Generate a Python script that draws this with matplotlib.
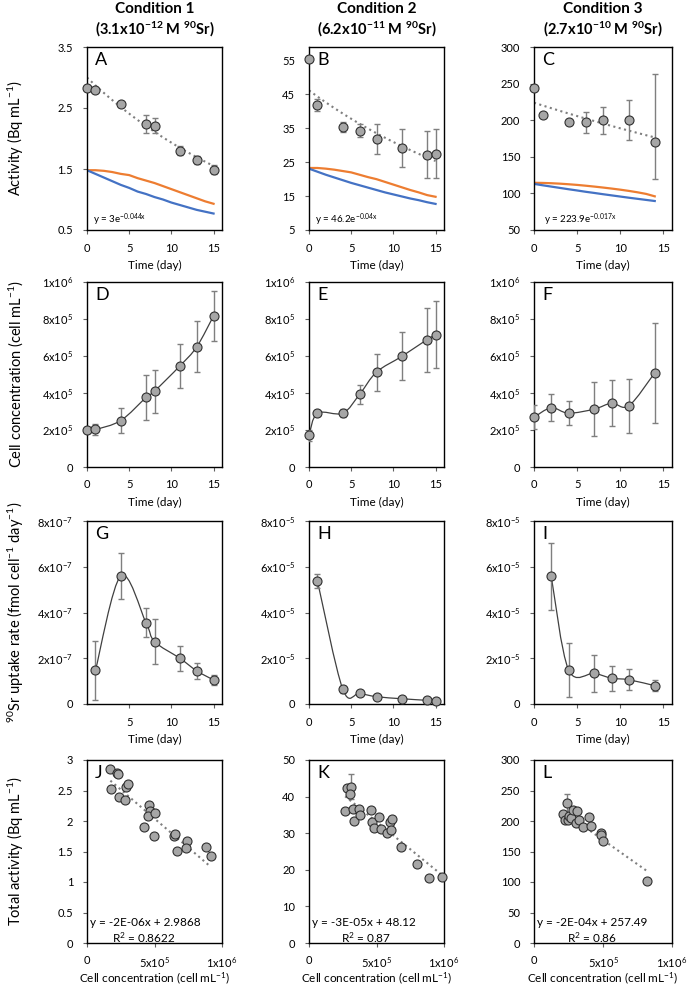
import numpy as np
import matplotlib.pyplot as plt
from matplotlib.path import Path
from matplotlib.patches import PathPatch

plt.rcParams['font.family'] = ['Lato', 'DejaVu Sans']
plt.rcParams['mathtext.fontset'] = 'custom'
plt.rcParams['mathtext.rm'] = 'Lato'
plt.rcParams['mathtext.it'] = 'Lato:italic'
plt.rcParams['mathtext.bf'] = 'Lato:bold'

# ---------------- data ----------------
conditions = ['Condition 1', 'Condition 2', 'Condition 3']
concentrations = [r'(3.1x10$^{\mathbf{-12}}$ M $^{\mathbf{90}}$Sr)',
                  r'(6.2x10$^{\mathbf{-11}}$ M $^{\mathbf{90}}$Sr)',
                  r'(2.7x10$^{\mathbf{-10}}$ M $^{\mathbf{90}}$Sr)']

# row 1: activity
act_day_1 = [0, 1, 4, 7, 8, 11, 13, 15]
act_1 = [2.83, 2.79, 2.56, 2.245, 2.21, 1.80, 1.645, 1.49]
act_err_1 = [0.04, 0.03, 0.045, 0.147, 0.12, 0.07, 0.065, 0.07]
act_day_2 = [0, 1, 4, 6, 8, 11, 14, 15]
act_2 = [55.5, 41.9, 35.4, 34.3, 31.8, 29.2, 27.2, 27.5]
act_err_2 = [0.5, 1.8, 1.4, 2.0, 4.5, 5.7, 6.9, 7.3]
act_day_3 = [0, 1, 4, 6, 8, 11, 14]
act_3 = [244.5, 206.8, 197.3, 197.0, 200.0, 200.0, 170.5]
act_err_lo_3 = [1, 2, 3, 14.5, 18.6, 27.7, 51]
act_err_hi_3 = [1, 2, 3, 14.5, 18.6, 27.7, 92]

fit_a = [3.0, 46.2, 223.9]
fit_k = [-0.044, -0.04, -0.017]
fit_end = [15, 15, 14]
fit_text = [r'y = 3e$^{\mathregular{-0.044x}}$',
            r'y = 46.2e$^{\mathregular{-0.04x}}$',
            r'y = 223.9e$^{\mathregular{-0.017x}}$']

model_day_12 = list(range(16))
model_day_3 = list(range(15))
orange_1 = [1.48, 1.48, 1.47, 1.45, 1.42, 1.40, 1.35, 1.31, 1.27, 1.22, 1.17, 1.12, 1.07, 1.02, 0.97, 0.93]
blue_1 = [1.48, 1.42, 1.36, 1.30, 1.24, 1.19, 1.13, 1.09, 1.04, 1.00, 0.95, 0.91, 0.87, 0.83, 0.80, 0.77]
orange_2 = [23.3, 23.3, 23.1, 22.8, 22.4, 22.0, 21.3, 20.6, 20.0, 19.2, 18.4, 17.6, 16.8, 16.1, 15.3, 14.8]
blue_2 = [23.1, 22.2, 21.3, 20.5, 19.7, 18.9, 18.2, 17.5, 16.8, 16.1, 15.5, 14.9, 14.3, 13.8, 13.2, 12.7]
orange_3 = [114.5, 114.3, 113.9, 113.3, 112.5, 111.6, 110.5, 109.3, 108.0, 106.6, 105.1, 103.4, 101.5, 99.3, 96.0]
blue_3 = [113.0, 111.1, 109.3, 107.5, 105.7, 104.0, 102.2, 100.6, 98.9, 97.3, 95.7, 94.1, 92.6, 91.1, 89.6]

# row 2: cell concentration
cell_day_1 = [0, 1, 4, 7, 8, 11, 13, 15]
cell_1 = [2.0e5, 2.03e5, 2.51e5, 3.76e5, 4.1e5, 5.46e5, 6.49e5, 8.17e5]
cell_err_1 = [0.1e5, 0.32e5, 0.67e5, 1.23e5, 1.16e5, 1.17e5, 1.38e5, 1.34e5]
cell_day_2 = [0, 1, 4, 6, 8, 11, 14, 15]
cell_2 = [1.71e5, 2.91e5, 2.91e5, 3.93e5, 5.13e5, 5.98e5, 6.89e5, 7.15e5]
cell_err_2 = [0.3e5, 0.1e5, 0.23e5, 0.5e5, 1.0e5, 1.3e5, 1.73e5, 1.8e5]
cell_day_3 = [0, 2, 4, 7, 9, 11, 14]
cell_3 = [2.69e5, 3.2e5, 2.91e5, 3.13e5, 3.45e5, 3.31e5, 5.09e5]
cell_err_3 = [0.65e5, 0.74e5, 0.65e5, 1.47e5, 1.24e5, 1.45e5, 2.7e5]

# row 3: uptake rate
rate_day_1 = [1, 4, 7, 8, 11, 13, 15]
rate_1 = [1.47e-7, 5.6e-7, 3.55e-7, 2.73e-7, 2.0e-7, 1.45e-7, 1.05e-7]
rate_err_1 = [1.28e-7, 1.02e-7, 0.64e-7, 0.98e-7, 0.55e-7, 0.36e-7, 0.23e-7]
rate_day_2 = [1, 4, 6, 8, 11, 14, 15]
rate_2 = [5.38e-5, 0.65e-5, 0.47e-5, 0.32e-5, 0.23e-5, 0.16e-5, 0.14e-5]
rate_err_2 = [0.3e-5, 0.15e-5, 0.05e-5, 0.03e-5, 0.03e-5, 0.02e-5, 0.02e-5]
rate_day_3 = [2, 4, 7, 9, 11, 14]
rate_3 = [5.58e-5, 1.5e-5, 1.34e-5, 1.13e-5, 1.06e-5, 0.8e-5]
rate_err_3 = [1.45e-5, 1.18e-5, 0.81e-5, 0.54e-5, 0.46e-5, 0.25e-5]

# row 4: total activity vs cell concentration
tot_cell_1 = [1.73e5, 2.22e5, 2.30e5, 1.80e5, 2.40e5, 2.84e5, 2.89e5, 3.04e5, 4.57e5, 4.64e5,
              4.52e5, 5.01e5, 4.25e5, 4.94e5, 6.42e5, 6.50e5, 7.41e5, 6.67e5, 7.31e5, 8.81e5, 9.16e5]
tot_1 = [2.85, 2.78, 2.77, 2.53, 2.40, 2.35, 2.55, 2.61, 2.26, 2.17,
         2.08, 2.13, 1.90, 1.75, 1.75, 1.78, 1.67, 1.51, 1.56, 1.57, 1.42]
tot_cell_2 = [2.68e5, 2.81e5, 3.11e5, 3.06e5, 3.23e5, 3.33e5, 3.68e5, 3.81e5, 4.56e5, 4.64e5, 4.81e5,
              5.19e5, 5.31e5, 5.81e5, 5.99e5, 6.12e5, 6.07e5, 6.79e5, 8.02e5, 8.87e5, 9.85e5]
tot_2 = [36.0, 42.3, 42.75, 40.8, 36.7, 33.4, 36.7, 35.05, 36.4, 33.06, 31.5,
         34.4, 31.25, 30.1, 33.06, 33.8, 30.8, 26.3, 21.7, 17.75, 17.9]
tot_cell_3 = [2.12e5, 2.36e5, 2.22e5, 2.46e5, 2.54e5, 2.71e5, 2.86e5, 3.10e5, 3.03e5, 3.28e5,
              3.52e5, 3.97e5, 4.14e5, 4.83e5, 4.88e5, 5.00e5, 8.20e5]
tot_3 = [212, 229, 202, 202, 209, 205, 218.5, 217, 197, 202,
         190, 206.5, 191, 181, 176.6, 166.8, 101.6]
tot_err_idx = [None, 2, 1]
tot_err = [0, 3.5, 15]
lin_slope = [-1.9e-6, -3.0e-5, -1.6e-4]
lin_icpt = [2.99, 48.12, 249.0]
lin_text = ['y = -2E-06x + 2.9868', 'y = -3E-05x + 48.12', 'y = -2E-04x + 257.49']
r2_text = [r'R$^{\mathregular{2}}$ = 0.8622', r'R$^{\mathregular{2}}$ = 0.87', r'R$^{\mathregular{2}}$ = 0.86']

letters = ['A', 'B', 'C', 'D', 'E', 'F', 'G', 'H', 'I', 'J', 'K', 'L']

# ---------------- layout ----------------
W, H = 696, 992
fig = plt.figure(figsize=(W / 100, H / 100), dpi=100)

col_l = [87, 309, 534]
col_r = [222, 444, 672]
row_t = [47, 282, 521, 760]
row_b = [230, 467, 704, 943]

GRAY = '#7f7f7f'
FACE = '#a6a6a6'
ORANGE = '#ED7D31'
BLUE = '#4472C4'


def px_axes(l, t, r, b):
    ax = fig.add_axes([l / W, 1 - b / H, (r - l) / W, (b - t) / H])
    for s in ax.spines.values():
        s.set_color('black')
        s.set_linewidth(1.0)
    ax.tick_params(direction='out', length=3, width=0.8, color='#606060',
                   labelsize=8, top=False, right=False)
    ax.tick_params(axis='x', pad=6)
    ax.tick_params(axis='y', pad=7)
    return ax


def smooth_line(ax, x, y):
    # Excel-style smoothed line drawn as cubic Bezier segments
    pts = np.column_stack([x, y]).astype(float)
    n = len(pts)
    verts = [pts[0]]
    codes = [Path.MOVETO]
    for i in range(n - 1):
        p0 = pts[i - 1] if i > 0 else pts[i]
        p1 = pts[i]
        p2 = pts[i + 1]
        p3 = pts[i + 2] if i + 2 < n else pts[i + 1]
        verts += [p1 + (p2 - p0) / 6, p2 - (p3 - p1) / 6, p2]
        codes += [Path.CURVE4] * 3
    ax.add_patch(PathPatch(Path(verts, codes), fill=False, ec='#404040', lw=0.9, zorder=2))


def points(ax, x, y):
    ax.plot(x, y, 'o', mfc=FACE, mec='#303030', ms=6.5, mew=0.8, zorder=4, clip_on=False)


def sci(m, e):
    return r'$\mathregular{%dx10^{%d}}$' % (m, e)


def letter(ax, s):
    ax.text(0.06, 0.93, s, transform=ax.transAxes, fontsize=13, va='center', ha='left')


def xlabel(ax, s, row):
    h = row_b[row] - row_t[row]
    ax.text(0.5, -35 / h, s, transform=ax.transAxes, ha='center', va='center', fontsize=8.5)


def ylabel(row, s):
    yc = 1 - (row_t[row] + row_b[row]) / 2 / H
    fig.text(16 / W, yc, s, rotation=90, ha='center', va='center', fontsize=10.5)


# titles
for c in range(3):
    xc = (col_l[c] + col_r[c]) / 2 / W
    fig.text(xc, 1 - 9 / H, conditions[c], ha='center', va='center', fontsize=11, fontweight='bold')
    fig.text(xc, 1 - 29 / H, concentrations[c], ha='center', va='center', fontsize=10.5, fontweight='bold')

# row 1
act_days = [act_day_1, act_day_2, act_day_3]
act_vals = [act_1, act_2, act_3]
act_errs = [[act_err_1, act_err_1], [act_err_2, act_err_2], [act_err_lo_3, act_err_hi_3]]
model_days = [model_day_12, model_day_12, model_day_3]
oranges = [orange_1, orange_2, orange_3]
blues = [blue_1, blue_2, blue_3]
act_ylim = [(0.5, 3.5), (5, 59), (50, 300)]
act_yticks = [[0.5, 1.5, 2.5, 3.5], [5, 15, 25, 35, 45, 55], [50, 100, 150, 200, 250, 300]]
act_ylabels = [['0.5', '1.5', '2.5', '3.5'], None, None]

for c in range(3):
    ax = px_axes(col_l[c], row_t[0], col_r[c], row_b[0])
    ax.plot(model_days[c], oranges[c], color=ORANGE, lw=1.6, zorder=2)
    ax.plot(model_days[c], blues[c], color=BLUE, lw=1.6, zorder=2)
    xf = np.linspace(0, fit_end[c], 60)
    ax.plot(xf, fit_a[c] * np.exp(fit_k[c] * xf), ':', color=GRAY, lw=1.5, zorder=2)
    ax.errorbar(act_days[c], act_vals[c], yerr=act_errs[c], fmt='none', ecolor=GRAY,
                elinewidth=1, capsize=2, capthick=1, zorder=3)
    points(ax, act_days[c], act_vals[c])
    ax.set_xlim(0, 16)
    ax.set_ylim(*act_ylim[c])
    ax.set_xticks([0, 5, 10, 15])
    ax.set_yticks(act_yticks[c])
    if act_ylabels[c]:
        ax.set_yticklabels(act_ylabels[c])
    ax.text(0.045 if c < 2 else 0.07, 0.055, fit_text[c], transform=ax.transAxes, fontsize=7, va='center')
    xlabel(ax, 'Time (day)', 0)
    letter(ax, letters[c])
ylabel(0, r'Activity (Bq mL$^{\mathregular{-1}}$)')

# row 2
cell_days = [cell_day_1, cell_day_2, cell_day_3]
cell_vals = [cell_1, cell_2, cell_3]
cell_errs = [cell_err_1, cell_err_2, cell_err_3]
for c in range(3):
    ax = px_axes(col_l[c], row_t[1], col_r[c], row_b[1])
    ax.errorbar(cell_days[c], cell_vals[c], yerr=cell_errs[c], fmt='none', ecolor=GRAY,
                elinewidth=1, capsize=2, capthick=1, zorder=3)
    smooth_line(ax, cell_days[c], cell_vals[c])
    points(ax, cell_days[c], cell_vals[c])
    ax.set_xlim(0, 16)
    ax.set_ylim(0, 1e6)
    ax.set_xticks([0, 5, 10, 15])
    ax.set_yticks([0, 2e5, 4e5, 6e5, 8e5, 1e6])
    ax.set_yticklabels(['0', sci(2, 5), sci(4, 5), sci(6, 5), sci(8, 5), sci(1, 6)])
    xlabel(ax, 'Time (day)', 1)
    letter(ax, letters[3 + c])
ylabel(1, r'Cell concentration (cell mL$^{\mathregular{-1}}$)')

# row 3
rate_days = [rate_day_1, rate_day_2, rate_day_3]
rate_vals = [rate_1, rate_2, rate_3]
rate_errs = [rate_err_1, rate_err_2, rate_err_3]
rate_exp = [-7, -5, -5]
for c in range(3):
    ax = px_axes(col_l[c], row_t[2], col_r[c], row_b[2])
    ax.errorbar(rate_days[c], rate_vals[c], yerr=rate_errs[c], fmt='none', ecolor=GRAY,
                elinewidth=1, capsize=2, capthick=1, zorder=3)
    smooth_line(ax, rate_days[c], rate_vals[c])
    points(ax, rate_days[c], rate_vals[c])
    e = rate_exp[c]
    ax.set_xlim(0, 16)
    ax.set_ylim(0, 8 * 10.0 ** e)
    ax.set_xticks([5, 10, 15] if c == 0 else [0, 5, 10, 15])
    ax.set_yticks([0, 2 * 10.0 ** e, 4 * 10.0 ** e, 6 * 10.0 ** e, 8 * 10.0 ** e])
    ax.set_yticklabels(['0', sci(2, e), sci(4, e), sci(6, e), sci(8, e)])
    xlabel(ax, 'Time (day)', 2)
    letter(ax, letters[6 + c])
ylabel(2, r'$^{\mathregular{90}}$Sr uptake rate (fmol cell$^{\mathregular{-1}}$ day$^{\mathregular{-1}}$)')

# row 4
tot_cells = [tot_cell_1, tot_cell_2, tot_cell_3]
tot_vals = [tot_1, tot_2, tot_3]
tot_ylim = [3, 50, 300]
tot_yticks = [[0, 0.5, 1, 1.5, 2, 2.5, 3], [0, 10, 20, 30, 40, 50], [0, 50, 100, 150, 200, 250, 300]]
tot_yticklabels = [['0', '0.5', '1', '1.5', '2', '2.5', '3'], None, None]
for c in range(3):
    ax = px_axes(col_l[c], row_t[3], col_r[c], row_b[3])
    xs = tot_cells[c]
    xl = np.array([min(xs), max(xs)])
    ax.plot(xl, lin_slope[c] * xl + lin_icpt[c], ':', color=GRAY, lw=1.5, zorder=2)
    i = tot_err_idx[c]
    if i is not None:
        ax.errorbar([xs[i]], [tot_vals[c][i]], yerr=[tot_err[c]], fmt='none', ecolor=GRAY,
                    elinewidth=1, capsize=2, capthick=1, zorder=3)
    points(ax, xs, tot_vals[c])
    ax.set_xlim(0, 1e6)
    ax.set_ylim(0, tot_ylim[c])
    ax.set_xticks([0, 5e5, 1e6])
    ax.set_xticklabels(['0', sci(5, 5), sci(1, 6)])
    ax.set_yticks(tot_yticks[c])
    if tot_yticklabels[c]:
        ax.set_yticklabels(tot_yticklabels[c])
    ax.text(0.025, 0.11, lin_text[c], transform=ax.transAxes, fontsize=8.5, va='center')
    ax.text(0.42, 0.03, r2_text[c], transform=ax.transAxes, fontsize=8.5, va='center', ha='center')
    xlabel(ax, r'Cell concentration (cell mL$^{\mathregular{-1}}$)', 3)
    letter(ax, letters[9 + c])
ylabel(3, r'Total activity (Bq mL$^{\mathregular{-1}}$)')

fig.savefig('out.png', dpi=100)
